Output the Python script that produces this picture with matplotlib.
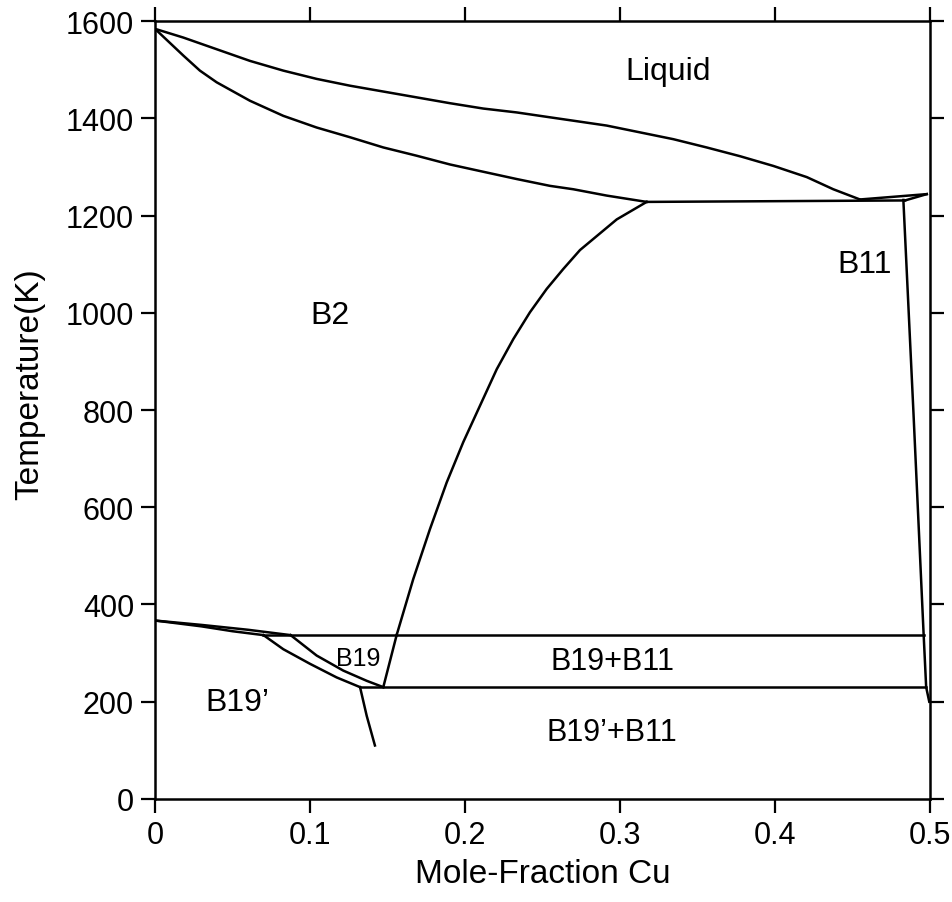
import numpy as np
import matplotlib.pyplot as plt

plt.rcParams['font.family'] = ['Liberation Sans', 'DejaVu Sans']

# liquidus and solidus of B2
liq_x = [0, 0.0183, 0.0398, 0.0613, 0.0828, 0.1043, 0.1258, 0.1473, 0.1688, 0.1903,
         0.2118, 0.2334, 0.2548, 0.2699, 0.2914, 0.3129, 0.3344, 0.3559, 0.3774,
         0.3989, 0.4205, 0.4376, 0.4548]
liq_T = [1584, 1566, 1542, 1518, 1498, 1481, 1467, 1455, 1443, 1431,
         1420, 1412, 1402, 1395, 1385, 1371, 1357, 1340, 1322,
         1302, 1279, 1254, 1233]
sol_x = [0, 0.0183, 0.029, 0.0398, 0.0613, 0.0828, 0.1043, 0.1258, 0.1473, 0.1688,
         0.1903, 0.2118, 0.2334, 0.2548, 0.2699, 0.2914, 0.3172]
sol_T = [1584, 1529, 1498, 1474, 1436, 1405, 1381, 1361, 1340, 1323,
         1305, 1290, 1275, 1261, 1254, 1241, 1228]

# B2 / (B2+B11) solvus
solv_x = [0.1559, 0.1666, 0.1774, 0.1882, 0.1989, 0.2097, 0.2205, 0.2312, 0.2419,
          0.2527, 0.2634, 0.2742, 0.2979, 0.3172]
solv_T = [337, 452, 555, 651, 734, 809, 884, 946, 1001, 1049, 1090, 1129, 1192, 1228]

# peritectic line and B11 liquidus wedge
peri_x = [0.3172, 0.4839]
peri_T = [1228, 1231]
wedge_top_x = [0.4548, 0.4979]
wedge_top_T = [1233, 1244]
wedge_bot_x = [0.4839, 0.4979]
wedge_bot_T = [1231, 1244]

# B11 phase boundary
b11_x = [0.4828, 0.4893, 0.4957, 0.4975, 0.4995]
b11_T = [1232, 795, 350, 230, 200]

# martensitic transformation lines
a_x = [0, 0.03, 0.06, 0.0875]
a_T = [367, 358, 348, 337]
b_x = [0, 0.03, 0.05, 0.07]
b_T = [367, 355, 345, 337]
c_x = [0.07, 0.0828, 0.1, 0.1172, 0.1323]
c_T = [337, 308, 278, 250, 230]
d_x = [0.0875, 0.1043, 0.1215, 0.1366, 0.1473]
d_T = [337, 295, 264, 243, 230]
e_x = [0.1323, 0.1366, 0.1419]
e_T = [230, 171, 110]
f_x = [0.1473, 0.1559]
f_T = [230, 337]
hi_x = [0.07, 0.4959]
hi_T = [337, 337]
lo_x = [0.1323, 0.4975]
lo_T = [230, 230]

labels = ['Liquid', 'B2', 'B11', 'B19', "B19\u2019", 'B19+B11', "B19\u2019+B11"]
lab_x = [0.331, 0.113, 0.458, 0.131, 0.053, 0.295, 0.295]
lab_T = [1497, 995, 1100, 290, 200, 284, 138]
lab_size = [23, 23, 23, 18, 23, 22, 22]

fig = plt.figure(figsize=(9.53, 9.03), dpi=100)
ax = fig.add_axes([0.1626, 0.1141, 0.8133, 0.8615])

lines = [(liq_x, liq_T), (sol_x, sol_T), (solv_x, solv_T), (peri_x, peri_T),
         (wedge_top_x, wedge_top_T), (wedge_bot_x, wedge_bot_T), (b11_x, b11_T),
         (a_x, a_T), (b_x, b_T), (c_x, c_T), (d_x, d_T), (e_x, e_T), (f_x, f_T),
         (hi_x, hi_T), (lo_x, lo_T)]
for xs, ts in lines:
    ax.plot(xs, ts, color='black', lw=1.8, solid_joinstyle='round')

for s, x, t, fs in zip(labels, lab_x, lab_T, lab_size):
    ax.text(x, t, s, fontsize=fs, ha='center', va='center')

ax.set_xlim(0, 0.5)
ax.set_ylim(0, 1600)
ax.set_xticks([0, 0.1, 0.2, 0.3, 0.4, 0.5])
ax.set_xticklabels(['0', '0.1', '0.2', '0.3', '0.4', '0.5'])
ax.set_yticks(range(0, 1601, 200))
ax.tick_params(direction='out', length=10, width=1.6, labelsize=22,
               top=True, right=True, pad=5)
for sp in ax.spines.values():
    sp.set_linewidth(1.8)
ax.set_xlabel('Mole-Fraction Cu', fontsize=24, labelpad=6)
ax.set_ylabel('Temperature(K)', fontsize=24)
ax.yaxis.set_label_coords(-0.141, 0.535)

fig.savefig('out.png', dpi=100)
